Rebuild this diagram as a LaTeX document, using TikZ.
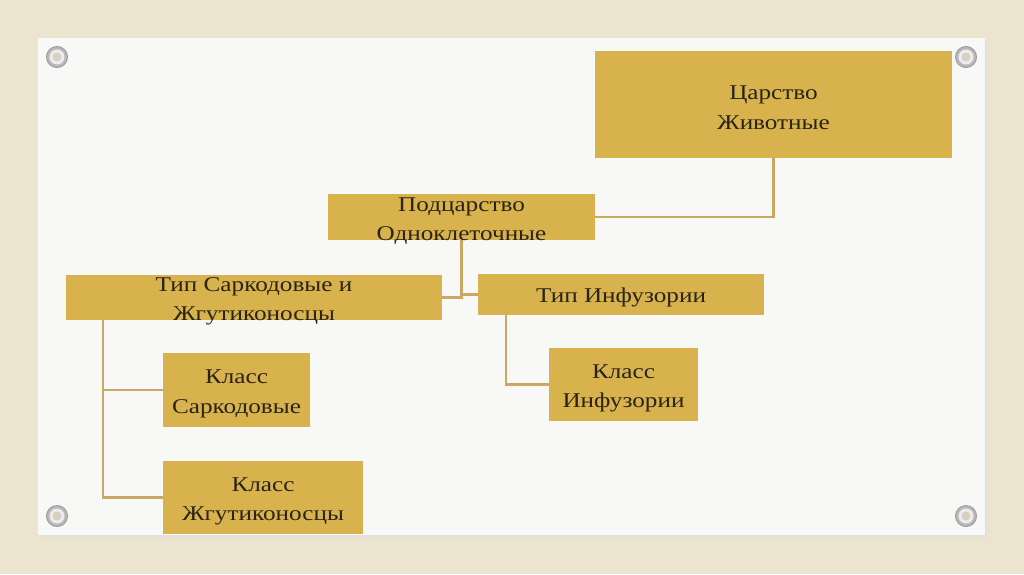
\documentclass[tikz,border=0pt]{standalone}
\usepackage{fontspec}
\setmainfont{Liberation Serif}[FakeStretch=1.2]
\usetikzlibrary{calc}
\definecolor{canvas}{HTML}{EDE4CF}
\definecolor{card}{HTML}{F8F8F6}
\definecolor{gold}{HTML}{D8B24C}
\definecolor{lineg}{HTML}{C9A862}
\definecolor{ink}{HTML}{2A2416}
\begin{document}
\begin{tikzpicture}[x=1pt,y=-1pt,
  box/.style={fill=gold,draw=none,inner sep=0pt},
  txt/.style={inner sep=0pt,align=center,text=ink,font=\fontsize{21}{29.5}\selectfont},
  conn/.style={draw=lineg,line width=2.4pt},
  screw/.style={circle,fill=gray!55,draw=gray!75,line width=1pt,minimum size=21pt,inner sep=0pt}]
\fill[canvas] (0,0) rectangle (1024,574);
\useasboundingbox (0,0) rectangle (1024,574);
\fill[black!12] (40,40) rectangle (987,537);
\fill[card] (38,38) rectangle (985,535);
% screws
\foreach \p/\n in {{(57,57)}/s1,{(966,57)}/s2,{(57,516)}/s3,{(966,516)}/s4}{
  \node[screw] (\n) at \p {};
  \node[circle,fill=gray!15,minimum size=15pt,inner sep=0pt] at (\n) {};
  \node[circle,fill=canvas!80!gray,minimum size=9pt,inner sep=0pt] at (\n) {};
}
% boxes
\node[box,minimum width=357pt,minimum height=107pt] (tz) at (773.5,104.5) {};
\node[box,minimum width=267pt,minimum height=46pt] (pod) at (461.5,217) {};
\node[box,minimum width=376pt,minimum height=45pt] (tipS) at (254,297.5) {};
\node[box,minimum width=286pt,minimum height=41pt] (tipI) at (621,294.5) {};
\node[box,minimum width=147pt,minimum height=74pt] (ks) at (236.5,390) {};
\node[box,minimum width=149pt,minimum height=73pt] (ki) at (623.5,384.5) {};
\node[box,minimum width=200pt,minimum height=73pt] (kz) at (263,497.5) {};
% connectors
\draw[conn] (tz.south) |- (pod.east);
\draw[conn] (pod.south) |- (tipS.east);
\draw[conn] (tipI.west) -| (pod.south);
\draw[conn] ($(tipS.south west)+(37,0)$) |- (ks.west);
\draw[conn] ($(tipS.south west)+(37,0)$) |- (kz.west);
\draw[conn] ($(tipI.south west)+(28,0)$) |- (ki.west);
% texts
\node[txt] (tzt) at ([yshift=-3pt]tz.center) {Царство\\Животные};
\node[txt] (podt) at ([yshift=-4pt]pod.center) {Подцарство\\Одноклеточные};
\node[txt] (tipSt) at ([yshift=-4pt]tipS.center) {Тип Саркодовые и\\Жгутиконосцы};
\node[txt] (tipIt) at ([yshift=-3pt]tipI.center) {Тип Инфузории};
\node[txt] (kst) at ([yshift=-4pt]ks.center) {Класс\\Саркодовые};
\node[txt] (kit) at ([yshift=-4pt]ki.center) {Класс\\Инфузории};
\node[txt] (kzt) at ([yshift=-4pt]kz.center) {Класс\\Жгутиконосцы};
\end{tikzpicture}
\end{document}
